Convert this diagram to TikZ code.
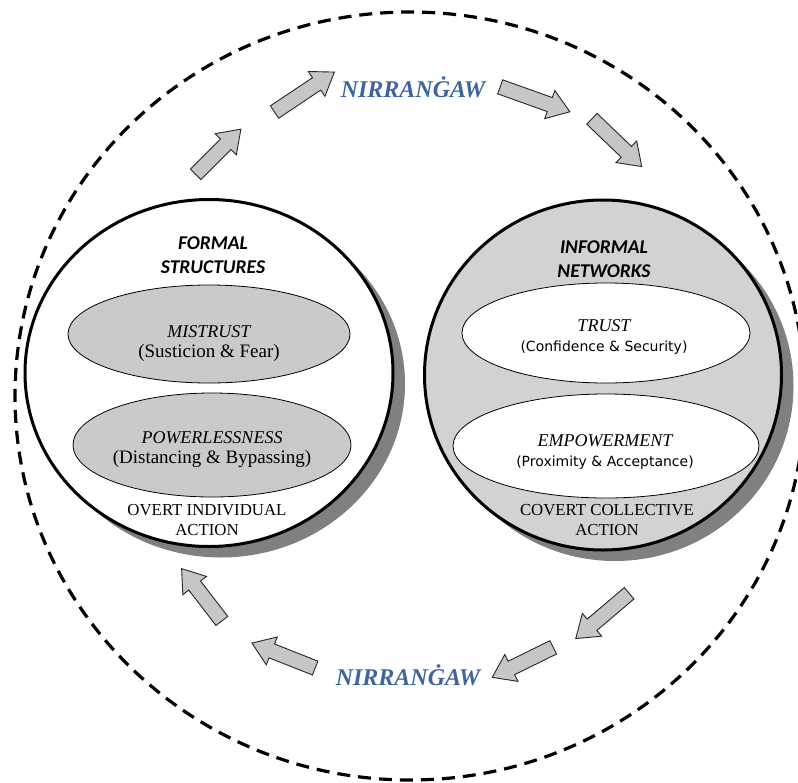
\documentclass[tikz,border=0pt]{standalone}
\usepackage{fontspec}
\setmainfont{Liberation Serif}
\newfontfamily\headfont{Carlito}
\newfontfamily\notefont{DejaVu Sans}
\usetikzlibrary{shapes.geometric,shapes.arrows,shadows,positioning}

\definecolor{nirblue}{HTML}{3D64A0}
\definecolor{discgray}{HTML}{D2D2D2}
\definecolor{lensgray}{HTML}{CACACA}
\definecolor{flowgray}{HTML}{C6C6C6}

\begin{document}
\begin{tikzpicture}[x=1pt,y=-1pt,
world/.style={draw,line width=3.2pt,dash pattern=on 13pt off 8pt},
realm/.style={ellipse,draw,line width=3pt,inner sep=0pt,
  drop shadow={shadow xshift=12pt,shadow yshift=-11pt,fill=black!50,opacity=1}},
lens/.style={ellipse,draw,line width=0.8pt,inner sep=0pt},
flow/.style={single arrow,draw=black!85,line width=0.9pt,fill=flowgray,
  inner xsep=0pt,inner ysep=7pt,single arrow head extend=7.5pt,
  single arrow tip angle=70},
head/.style={font=\headfont\bfseries\itshape\fontsize{19.5}{24}\selectfont,
  text=black,align=center},
lenstext/.style={font=\fontsize{19}{20}\selectfont,align=center},
acttext/.style={font=\fontsize{16.8}{20}\selectfont,align=center},
nir/.style={font=\bfseries\itshape\fontsize{24}{24}\selectfont,text=nirblue}]
\useasboundingbox (0,0) rectangle (798,782);

\draw[world] (410,396) ellipse [x radius=395, y radius=384];

% the two realms
\node[realm,fill=white,minimum width=368pt,minimum height=347pt] (formal) at (209,373) {};
\node[realm,fill=discgray,minimum width=357pt,minimum height=350pt] (informal) at (603,375) {};

\node[head] (formalhead) at (213,255) {FORMAL\\STRUCTURES};
\node[head] (informalhead) at (604,259) {INFORMAL\\NETWORKS};

\node[lens,fill=lensgray,minimum width=282pt,minimum height=98pt] (mistrust) at (209,334) {};
\node[lens,fill=lensgray,minimum width=278pt,minimum height=104pt] (powerless) at (212,445) {};
\node[lens,fill=white,minimum width=288pt,minimum height=100pt] (trust) at (606,333) {};
\node[lens,fill=white,minimum width=306pt,minimum height=104pt] (empower) at (606,446) {};

\node[lenstext] (mistrusttext) at (209,344) {{\itshape\fontsize{18}{20}\selectfont MISTRUST}\\(Susticion \& Fear)};
\node[lenstext] (powerlesstext) at (212,450) {{\itshape\fontsize{18}{20}\selectfont POWERLESSNESS}\\(Distancing \& Bypassing)};
\node[lenstext] (trusttext) at (604,337) {{\itshape\fontsize{18}{20}\selectfont TRUST}\\{\notefont\fontsize{14}{20}\selectfont(Confidence \& Security)}};
\node[lenstext] (empowertext) at (605,452) {{\itshape\fontsize{18}{20}\selectfont EMPOWERMENT}\\{\notefont\fontsize{14}{20}\selectfont(Proximity \& Acceptance)}};

\node[acttext] (overt) at (207,520) {OVERT INDIVIDUAL\\ACTION};
\node[acttext] (covert) at (607,520) {COVERT COLLECTIVE\\ACTION};

% the flow round the circle
\node[nir] (nirtop) at (413,87) {NIRRANĠAW};
\node[nir] (nirbottom) at (408,675) {NIRRANĠAW};

\node[flow,rotate=45,minimum height=64pt] (up1) at (214.5,155.5) {};
\node[flow,rotate=33.7,minimum height=72pt] (up2) at (300,95) {};
\node[flow,rotate=-19.7,minimum height=74pt] (down1) at (530,97.5) {};
\node[flow,rotate=-43.8,minimum height=69pt] (down2) at (613,139) {};
\node[flow,rotate=220.3,minimum height=70pt] (back1) at (606.5,612.5) {};
\node[flow,rotate=206.2,minimum height=68pt] (back2) at (527.5,660) {};
\node[flow,rotate=158.4,minimum height=68pt] (back3) at (288.5,657.5) {};
\node[flow,rotate=127.6,minimum height=66pt] (back4) at (205,599) {};
\end{tikzpicture}
\end{document}
